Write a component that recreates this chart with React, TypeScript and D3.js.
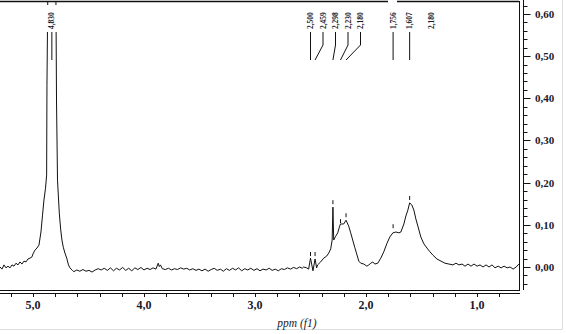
import React, { useEffect, useRef } from "react";
import * as d3 from "d3";

// spectrum: [ppm, intensity]
const spectrum: [number, number][] = [
  [5.297, 0.0], [5.279, -0.005], [5.261, 0.005], [5.243, -0.002], [5.225, 0.002],
  [5.207, -0.002], [5.189, 0.005], [5.171, 0.002], [5.153, 0.009], [5.135, 0.005],
  [5.117, 0.012], [5.099, 0.007], [5.081, 0.014], [5.063, 0.012], [5.045, 0.019],
  [5.027, 0.021], [5.009, 0.024], [5.0, 0.031], [4.982, 0.04], [4.964, 0.045],
  [4.946, 0.052], [4.928, 0.083], [4.914, 0.123], [4.901, 0.159], [4.887, 0.187],
  [4.877, 0.218], [4.874, 0.431], [4.867, 0.63], [4.83, 0.95], [4.793, 0.63],
  [4.788, 0.396], [4.779, 0.206], [4.763, 0.128], [4.75, 0.088], [4.739, 0.064],
  [4.727, 0.047], [4.712, 0.033], [4.696, 0.021], [4.68, 0.005], [4.667, -0.002],
  [4.645, -0.008], [4.632, -0.011], [4.605, -0.007], [4.578, -0.01], [4.55, -0.006],
  [4.522, -0.01], [4.495, -0.008], [4.468, -0.012], [4.44, -0.007], [4.412, -0.004],
  [4.385, -0.007], [4.358, -0.003], [4.33, -0.008], [4.302, -0.002], [4.275, -0.009],
  [4.248, -0.003], [4.22, -0.007], [4.192, -0.001], [4.165, -0.008], [4.138, -0.003],
  [4.11, -0.009], [4.082, -0.002], [4.055, -0.006], [4.028, -0.001], [4.0, -0.007],
  [3.972, -0.003], [3.945, -0.006], [3.918, -0.002], [3.892, -0.005], [3.872, 0.009],
  [3.862, 0.001], [3.852, 0.005], [3.835, -0.004], [3.808, -0.006], [3.78, -0.003],
  [3.752, -0.007], [3.725, -0.004], [3.698, -0.006], [3.67, -0.002], [3.642, -0.005],
  [3.615, -0.003], [3.588, -0.007], [3.56, -0.004], [3.532, -0.008], [3.505, -0.005],
  [3.478, -0.009], [3.45, -0.005], [3.422, -0.01], [3.395, -0.006], [3.368, -0.003],
  [3.34, -0.008], [3.312, -0.005], [3.285, -0.01], [3.258, -0.004], [3.23, -0.008],
  [3.202, -0.003], [3.175, -0.007], [3.148, -0.002], [3.12, -0.009], [3.092, -0.004],
  [3.065, -0.007], [3.038, -0.003], [3.01, -0.008], [2.982, -0.004], [2.955, -0.009],
  [2.928, -0.005], [2.9, -0.007], [2.872, -0.003], [2.845, -0.008], [2.818, -0.005],
  [2.79, -0.009], [2.762, -0.004], [2.735, -0.006], [2.708, -0.002], [2.68, -0.005],
  [2.652, -0.001], [2.625, -0.004], [2.598, 0.0], [2.575, -0.003], [2.562, 0.0],
  [2.535, -0.002], [2.517, -0.005], [2.5, 0.021], [2.478, -0.009], [2.459, 0.019],
  [2.445, -0.002], [2.436, 0.005], [2.409, 0.012], [2.381, 0.021], [2.354, 0.026],
  [2.336, 0.033], [2.318, 0.043], [2.305, 0.064], [2.298, 0.142], [2.291, 0.064],
  [2.273, 0.073], [2.255, 0.081], [2.237, 0.097], [2.23, 0.102], [2.201, 0.102],
  [2.18, 0.111], [2.156, 0.097], [2.138, 0.081], [2.12, 0.064], [2.102, 0.047],
  [2.084, 0.031], [2.065, 0.014], [2.047, 0.009], [2.02, 0.007], [1.993, 0.002],
  [1.975, 0.005], [1.957, 0.009], [1.939, 0.012], [1.921, 0.007], [1.894, 0.009],
  [1.867, 0.021], [1.84, 0.036], [1.813, 0.055], [1.786, 0.071], [1.758, 0.081],
  [1.731, 0.083], [1.704, 0.081], [1.686, 0.083], [1.659, 0.102], [1.641, 0.121],
  [1.623, 0.135], [1.607, 0.152], [1.587, 0.147], [1.569, 0.135], [1.551, 0.114],
  [1.533, 0.097], [1.506, 0.071], [1.479, 0.055], [1.451, 0.045], [1.424, 0.036],
  [1.397, 0.028], [1.361, 0.019], [1.325, 0.014], [1.289, 0.009], [1.253, 0.007],
  [1.217, 0.005], [1.19, 0.009], [1.163, 0.005], [1.135, 0.007], [1.108, 0.002],
  [1.081, 0.007], [1.054, 0.002], [1.027, 0.007], [1.0, 0.002], [0.973, 0.005],
  [0.946, 0.0], [0.919, 0.005], [0.892, 0.0], [0.865, 0.005], [0.838, -0.002],
  [0.81, 0.002], [0.783, -0.002], [0.756, 0.002], [0.729, -0.002], [0.702, 0.0],
  [0.675, -0.005], [0.648, 0.0], [0.63, 0.005], [0.622, 0.007],
];

// peak picking labels
const peakPpm = [4.83, 2.5, 2.459, 2.298, 2.23, 2.18, 1.756, 1.607, 1.415];
const peakText = ["4,830", "2,500", "2,459", "2,298", "2,230", "2,180", "1,756", "1,607", "2,180"];
const peakMark: (number | null)[] = [null, 0.026, 0.026, 0.149, 0.104, 0.118, 0.092, 0.159, null];
const peakHasLine = [true, true, true, true, true, true, true, true, false];

const xMajor = [5, 4, 3, 2, 1];
const xLabels = ["5,0", "4,0", "3,0", "2,0", "1,0"];
const yMajor = [0, 0.1, 0.2, 0.3, 0.4, 0.5, 0.6];
const yLabels = ["0,00", "0,10", "0,20", "0,30", "0,40", "0,50", "0,60"];

const W = 566;
const H = 334;
const plot = { left: 0, right: 519, top: 1, bottom: 291 };

export default function App() {
  const ref = useRef<SVGSVGElement>(null);

  useEffect(() => {
    const svg = d3.select(ref.current);
    svg.selectAll("*").remove();

    const x = d3.scaleLinear().domain([5.297, 0.622]).range([plot.left, plot.right]);
    const y = d3.scaleLinear().domain([-0.0569, 0.6308]).range([plot.bottom, plot.top]);

    svg.append("rect").attr("width", W).attr("height", H).attr("fill", "white");

    // faint outer border
    svg.append("line").attr("x1", 562.5).attr("x2", 562.5).attr("y1", 0).attr("y2", 329.5)
      .attr("stroke", "#dcdcdc");
    svg.append("line").attr("x1", 0).attr("x2", 562.5).attr("y1", 329.5).attr("y2", 329.5)
      .attr("stroke", "#dcdcdc");

    svg.append("clipPath").attr("id", "plotclip")
      .append("rect")
      .attr("x", plot.left).attr("y", plot.top)
      .attr("width", plot.right - plot.left).attr("height", plot.bottom - plot.top);

    const line = d3.line<[number, number]>()
      .x((d) => x(d[0]))
      .y((d) => y(d[1]));

    svg.append("path")
      .datum(spectrum)
      .attr("clip-path", "url(#plotclip)")
      .attr("fill", "none")
      .attr("stroke", "#111")
      .attr("stroke-width", 1)
      .attr("d", line);

    // peak labels
    let prev = -Infinity;
    const labelX = peakPpm.map((p, i) => {
      let lx = x(p);
      if (i > 0 && peakHasLine[i] && lx < prev + 12.5 && lx > prev - 60) lx = prev + 12.5;
      prev = lx;
      return lx;
    });

    const lab = svg.append("g");
    peakPpm.forEach((p, i) => {
      const px = x(p);
      const lx = labelX[i];
      lab.append("rect")
        .attr("x", lx - 7).attr("y", 5).attr("width", 14).attr("height", 27)
        .attr("fill", "white");
      lab.append("text")
        .attr("transform", `translate(${lx},29) rotate(-90)`)
        .attr("dy", "0.35em")
        .attr("font-family", "'Liberation Serif', 'Times New Roman', serif")
        .attr("font-weight", "bold")
        .attr("font-size", 7.5)
        .attr("fill", "#1a1a2a")
        .text(peakText[i]);
      if (peakHasLine[i]) {
        const d = Math.abs(lx - px) < 2.5
          ? `M${lx},32V60`
          : `M${lx},32V45L${px},60`;
        lab.append("path").attr("d", d).attr("fill", "none").attr("stroke", "#111");
      }
      const m = peakMark[i];
      if (m !== null) {
        lab.append("line")
          .attr("x1", px).attr("x2", px)
          .attr("y1", y(m)).attr("y2", y(m) - 4)
          .attr("stroke", "#111");
      }
    });

    // frame
    const frame = svg.append("g").attr("stroke", "#111").attr("fill", "none");
    frame.append("line").attr("x1", 0).attr("x2", 388).attr("y1", 1.5).attr("y2", 1.5).attr("stroke-width", 1.3);
    frame.append("line").attr("x1", 397).attr("x2", plot.right).attr("y1", 1.5).attr("y2", 1.5).attr("stroke-width", 1.3);
    frame.append("line").attr("x1", plot.right + 0.5).attr("x2", plot.right + 0.5).attr("y1", 1).attr("y2", 291);
    frame.append("line").attr("x1", 0).attr("x2", plot.right + 1).attr("y1", 290.5).attr("y2", 290.5);
    frame.append("line").attr("x1", 0).attr("x2", plot.right + 1).attr("y1", 293.5).attr("y2", 293.5);

    // x ticks
    const xMinor = d3.range(5.2, 0.7, -0.2);
    const xt = svg.append("g").attr("stroke", "#111");
    xMinor.forEach((t) => {
      const px = Math.round(x(t)) + 0.5;
      xt.append("line").attr("x1", px).attr("x2", px).attr("y1", 294).attr("y2", 297);
    });
    svg.append("g").selectAll("text").data(xMajor).enter().append("text")
      .attr("x", (d) => x(d))
      .attr("y", 309)
      .attr("text-anchor", "middle")
      .attr("font-family", "'Liberation Serif', 'Times New Roman', serif")
      .attr("font-weight", "bold")
      .attr("font-size", 12)
      .attr("fill", "#1a1a2a")
      .text((d, i) => xLabels[i]);

    svg.append("text")
      .attr("x", 297).attr("y", 327)
      .attr("text-anchor", "middle")
      .attr("font-family", "'Liberation Serif', 'Times New Roman', serif")
      .attr("font-style", "italic")
      .attr("font-size", 11.5)
      .attr("fill", "#1a1a2a")
      .text("ppm (f1)");

    // right axis
    const ax = 523.5;
    svg.append("line").attr("x1", ax).attr("x2", ax).attr("y1", 0).attr("y2", 290)
      .attr("stroke", "#111");
    const yMinor = d3.range(-0.04, 0.625, 0.02);
    const yt = svg.append("g").attr("stroke", "#111");
    yMinor.forEach((t) => {
      const major = Math.abs(t * 10 - Math.round(t * 10)) < 1e-6;
      const py = Math.round(y(t)) + 0.5;
      yt.append("line").attr("x1", ax).attr("x2", ax + (major ? 7 : 4)).attr("y1", py).attr("y2", py);
    });
    svg.append("g").selectAll("text").data(yMajor).enter().append("text")
      .attr("x", 535)
      .attr("y", (d) => y(d))
      .attr("dy", "0.35em")
      .attr("font-family", "'Liberation Serif', 'Times New Roman', serif")
      .attr("font-weight", "bold")
      .attr("font-size", 11)
      .attr("fill", "#1a1a2a")
      .text((d, i) => yLabels[i]);
  }, []);

  return (
    <svg
      ref={ref}
      width={W}
      height={H}
      style={{ position: "absolute", left: 0, top: 0 }}
    ></svg>
  );
}
